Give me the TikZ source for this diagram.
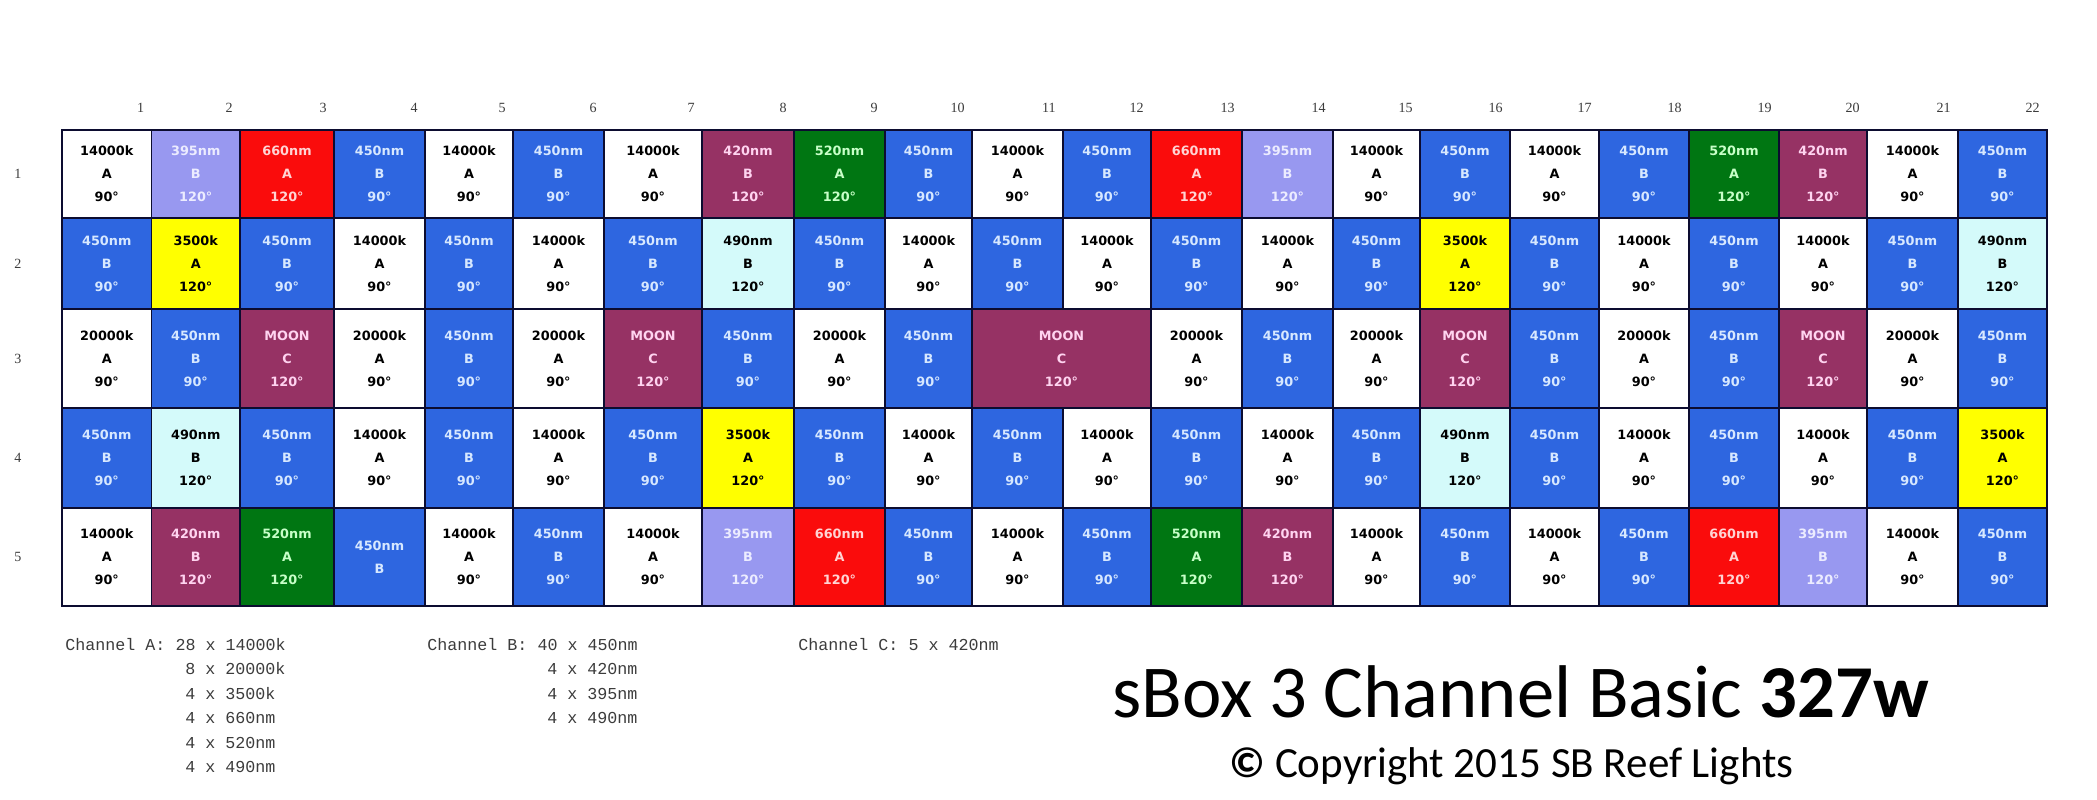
\documentclass[tikz,border=0pt]{standalone}
\usepackage{fontspec}
\setmainfont{Liberation Serif}
\setmonofont{Liberation Mono}
\newfontfamily\cellfont{DejaVu Sans}
\newfontfamily\titlefont{Carlito}
\usepackage{tikz}

\definecolor{gridline}{RGB}{12,12,48}
\definecolor{ledblue}{RGB}{46,102,224}
\definecolor{ledbluetext}{RGB}{215,232,255}
\definecolor{ledlav}{RGB}{152,152,240}
\definecolor{ledlavtext}{RGB}{236,236,255}
\definecolor{ledred}{RGB}{250,12,12}
\definecolor{ledredtext}{RGB}{255,212,212}
\definecolor{ledplum}{RGB}{150,50,100}
\definecolor{ledplumtext}{RGB}{255,212,240}
\definecolor{ledgreen}{RGB}{0,118,18}
\definecolor{ledgreentext}{RGB}{200,255,200}
\definecolor{ledyellow}{RGB}{255,255,0}
\definecolor{ledcyan}{RGB}{212,250,250}
\definecolor{legendgray}{RGB}{60,60,60}

\tikzset{
  led/.style={draw=gridline, line width=1.1pt, inner sep=0pt, align=center,
    font=\cellfont\bfseries\fontsize{7.3}{13}\selectfont},
  led-W/.style={fill=white, text=black, node contents={14000k\\A\\90°}},
  led-T/.style={fill=white, text=black, node contents={20000k\\A\\90°}},
  led-Y/.style={fill=ledyellow, text=black, node contents={3500k\\A\\120°}},
  led-B/.style={fill=ledblue, text=ledbluetext, node contents={450nm\\B\\90°}},
  led-S/.style={fill=ledblue, text=ledbluetext, node contents={450nm\\B}},
  led-L/.style={fill=ledlav, text=ledlavtext, node contents={395nm\\B\\120°}},
  led-R/.style={fill=ledred, text=ledredtext, node contents={660nm\\A\\120°}},
  led-P/.style={fill=ledplum, text=ledplumtext, node contents={420nm\\B\\120°}},
  led-G/.style={fill=ledgreen, text=ledgreentext, node contents={520nm\\A\\120°}},
  led-C/.style={fill=ledcyan, text=black, node contents={490nm\\B\\120°}},
  led-M/.style={fill=ledplum, text=ledplumtext, node contents={MOON\\C\\120°}},
  axislabel/.style={inner sep=0pt, text=legendgray, font=\fontsize{8}{9}\selectfont},
  legendline/.style={inner sep=0pt, anchor=base west, text=legendgray,
    font=\ttfamily\fontsize{9.5}{11}\selectfont},
}

\def\colx{62,151.5,240,334,425,513,604,702,794,885,972,1063,1151,1242,1333,1420,1510,1599,1689,1779,1867,1958,2047}
\def\rowy{130,218,309,408,508,606}

\begin{document}
\begin{tikzpicture}[x=0.02cm, y=-0.02cm]
  \fill[white] (0,0) rectangle (2097,800);
  \useasboundingbox (0,0) rectangle (2097,800);

  \foreach \row [count=\r] in {
    {W,L,R,B,W,B,W,P,G,B,W,B,R,L,W,B,W,B,G,P,W,B},
    {B,Y,B,W,B,W,B,C,B,W,B,W,B,W,B,Y,B,W,B,W,B,C},
    {T,B,M,T,B,T,M,B,T,B,N,N,T,B,T,M,B,T,B,M,T,B},
    {B,C,B,W,B,W,B,Y,B,W,B,W,B,W,B,C,B,W,B,W,B,Y},
    {W,P,G,S,W,B,W,L,R,B,W,B,G,P,W,B,W,B,R,L,W,B}}
    \foreach \t [count=\c] in \row {
      \if N\t\else
        \pgfmathsetmacro\xa{{\colx}[\c-1]}
        \pgfmathsetmacro\xb{{\colx}[\c]}
        \pgfmathsetmacro\ya{{\rowy}[\r-1]}
        \pgfmathsetmacro\yb{{\rowy}[\r]}
        \node (c-\r-\c) at ({(\xa+\xb)/2},{(\ya+\yb)/2})
          [led, minimum width=(\xb-\xa)*0.02cm, minimum height=(\yb-\ya)*0.02cm, led-\t];
      \fi
    };
  \node (c-3-11) at (1061.5,358.5)
    [led, minimum width=179*0.02cm, minimum height=99*0.02cm, led-M];

  \foreach \c in {1,...,22} {
    \pgfmathsetmacro\xb{{\colx}[\c]}
    \node[axislabel, anchor=east] (col-\c) at (\xb-7,108) {\c};
  }
  \foreach \r in {1,...,5} {
    \pgfmathsetmacro\ya{{\rowy}[\r-1]}
    \pgfmathsetmacro\yb{{\rowy}[\r]}
    \node[axislabel] (row-\r) at (18,{(\ya+\yb)/2}) {\r};
  }

  \node[legendline] (la-1) at (65,650) {Channel A: 28 x 14000k};
  \node[legendline] (la-2) at (185,674.5) {8 x 20000k};
  \node[legendline] (la-3) at (185,699) {4 x 3500k};
  \node[legendline] (la-4) at (185,723.5) {4 x 660nm};
  \node[legendline] (la-5) at (185,748) {4 x 520nm};
  \node[legendline] (la-6) at (185,772.5) {4 x 490nm};
  \node[legendline] (lb-1) at (427,650) {Channel B: 40 x 450nm};
  \node[legendline] (lb-2) at (547,674.5) {4 x 420nm};
  \node[legendline] (lb-3) at (547,699) {4 x 395nm};
  \node[legendline] (lb-4) at (547,723.5) {4 x 490nm};
  \node[legendline] (lc-1) at (798,650) {Channel C: 5 x 420nm};

  \node[inner sep=0pt, anchor=base west, font=\titlefont\fontsize{42.5}{46}\selectfont]
    (title) at (1112,717) {sBox 3 Channel Basic \textbf{327w}};
  \node[inner sep=0pt, anchor=base west, font=\titlefont\fontsize{24.5}{28}\selectfont]
    (copy) at (1229,777) {\textbf{©} Copyright 2015 SB Reef Lights};
\end{tikzpicture}
\end{document}
